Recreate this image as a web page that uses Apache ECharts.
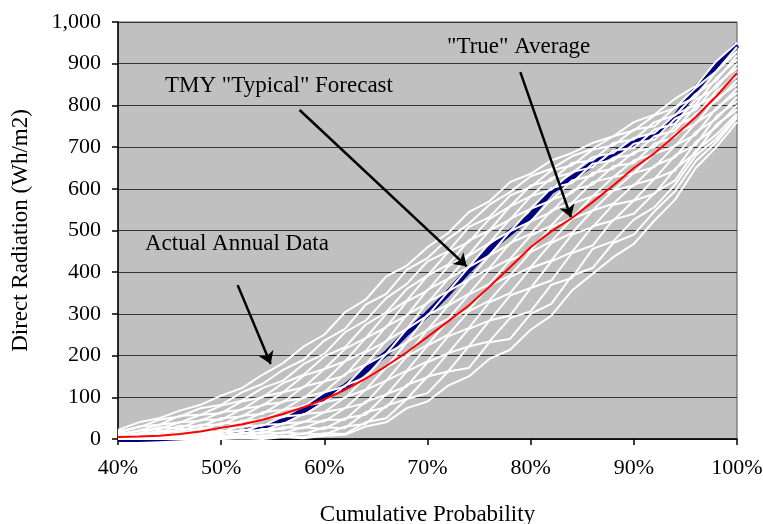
<!DOCTYPE html>
<html>
<head>
<meta charset="utf-8">
<script src="https://cdn.jsdelivr.net/npm/echarts@6/dist/echarts.min.js"></script>
<style>
html,body{margin:0;padding:0;background:#fff;}
#chart{width:763px;height:524px;}
</style>
</head>
<body>
<div id="chart"></div>
<script>
// Cumulative probability (%) sample points
var probs = [40,42,44,46,48,50,52,54,56,58,60,62,64,66,68,70,72,74,76,78,80,82,84,86,88,90,92,94,96,98,100];

// "True" average
var trueAverage = [5,6,8,12,18,27,35,46,60,76,95,118,145,175,208,245,282,320,365,412,460,498,530,568,608,650,685,728,772,822,878];

// TMY "Typical" forecast
var tmyForecast = [0,0,2,4,6,10,16,28,45,68,100,125,165,205,255,300,350,405,455,495,535,595,625,660,685,710,728,770,840,895,945];

// Actual annual data (one array per year)
var year01 = [22,40,50,68,82,104,122,154,182,222,250,304,334,390,416,460,494,544,570,616,636,668,686,710,726,760,778,816,846,906,950];
var year02 = [18,28,46,54,74,82,112,132,166,190,236,264,322,348,406,434,480,516,562,592,630,648,678,696,726,740,776,794,842,882,940];
var year03 = [15,30,34,56,58,80,92,122,140,180,204,256,284,338,372,426,450,508,532,584,604,644,656,694,704,742,750,796,820,882,930];
var year04 = [12,20,34,40,58,62,90,100,134,154,198,220,274,304,360,392,448,472,528,558,608,620,662,668,710,718,760,776,828,860,920];
var year05 = [10,20,24,40,44,64,70,102,112,152,168,216,242,300,332,392,418,476,500,558,582,626,638,676,686,722,734,778,802,866,910];
var year06 = [8,12,28,26,46,46,72,80,112,124,168,186,242,268,330,356,414,442,500,526,582,598,640,652,692,698,742,756,814,842,900];
var year07 = [6,14,16,32,30,50,54,82,88,126,138,186,210,270,296,358,384,440,470,528,552,602,614,660,668,708,718,768,790,850,890];
var year08 = [5,8,20,18,34,34,56,60,90,98,138,152,208,234,298,326,384,412,470,498,552,572,620,632,674,682,726,740,798,826,880];
var year09 = [4,10,10,24,22,38,40,64,70,100,112,156,178,236,264,328,354,412,440,498,522,574,590,638,648,688,700,750,774,834,870];
var year10 = [3,5,13,12,26,24,44,46,70,78,112,126,178,204,264,296,354,382,440,468,522,544,596,610,654,662,708,724,780,810,860];
var year11 = [2,6,6,16,14,28,28,50,52,80,88,128,148,204,232,298,322,382,410,470,492,548,566,616,628,668,684,732,756,816,850];
var year12 = [2,3,9,8,18,16,32,32,54,58,88,98,148,172,232,262,320,348,406,432,488,512,564,582,628,638,684,702,758,790,840];
var year13 = [1,4,4,10,10,20,18,34,36,60,64,100,118,172,200,262,288,346,372,428,452,508,530,582,596,638,652,704,730,794,830];
var year14 = [1,1,6,5,13,11,22,20,38,40,64,74,118,140,198,226,284,310,368,392,448,474,528,548,596,608,656,676,736,768,820];
var year15 = [0,3,2,7,6,14,12,24,24,42,42,74,86,140,164,224,250,306,332,388,412,470,494,548,564,610,624,680,706,774,810];
var year16 = [0,0,3,3,8,6,15,14,28,26,46,46,90,106,162,186,246,266,328,350,410,428,490,508,562,572,624,644,712,748,800];
var year17 = [0,1,1,4,3,8,6,16,14,28,24,50,58,108,126,184,206,264,284,344,362,426,448,510,524,572,588,648,686,754,790];
var year18 = [0,0,2,1,4,3,9,6,16,12,28,26,64,76,130,148,206,222,284,296,362,380,446,464,526,540,590,620,692,730,780];
var year19 = [0,0,0,2,1,4,3,9,6,14,10,30,36,80,96,150,162,222,234,290,306,370,386,456,474,526,556,610,680,720,775];
var year20 = [0,0,0,0,2,1,4,2,8,4,14,12,40,50,96,110,162,170,232,240,300,324,392,410,470,490,546,594,666,712,770];
var year21 = [0,0,0,0,0,0,2,0,4,2,8,10,30,40,74,90,128,150,192,214,262,296,356,396,436,468,524,574,650,700,760];

var annualYears = [year01,year02,year03,year04,year05,year06,year07,year08,year09,year10,year11,year12,year13,year14,year15,year16,year17,year18,year19,year20,year21];

// Annotation texts and arrow coordinates (in data units: [probability %, Wh/m2])
var annotationTexts = ['TMY "Typical" Forecast', '"True" Average', 'Actual Annual Data'];
var arrowTMY = [[57.6, 789], [73.8, 414]];
var arrowAvg = [[79.0, 880], [83.9, 532]];
var arrowAnnual = [[51.6, 369], [54.8, 180]];

var yTicks = [0,100,200,300,400,500,600,700,800,900,1000];

function pairs(vals){
  return probs.map(function(p,i){ return [p, vals[i]]; });
}

var serifFont = '"Liberation Serif", "Times New Roman", serif';

var series = [];
series.push({
  name: 'TMY', type: 'line', data: pairs(tmyForecast), showSymbol: false,
  lineStyle: {color: '#000080', width: 6}, z: 2, silent: true
});
annualYears.forEach(function(y, i){
  series.push({
    name: 'Year ' + (i+1), type: 'line', data: pairs(y), showSymbol: false,
    lineStyle: {color: '#ffffff', width: 2}, z: 3, silent: true
  });
});
series.push({
  name: 'Average', type: 'line', data: pairs(trueAverage), showSymbol: false,
  lineStyle: {color: '#ff0000', width: 2}, z: 4, silent: true
});
series.push({
  name: 'arrows', type: 'line', data: [], z: 5, silent: true,
  markLine: {
    silent: true, animation: false,
    symbol: ['none', 'arrow'], symbolSize: 12,
    label: {show: false},
    lineStyle: {color: '#000', width: 2.5, type: 'solid'},
    itemStyle: {color: '#000'},
    data: [
      [{coord: arrowTMY[0]}, {coord: arrowTMY[1]}],
      [{coord: arrowAvg[0]}, {coord: arrowAvg[1]}],
      [{coord: arrowAnnual[0]}, {coord: arrowAnnual[1]}]
    ]
  }
});

var chart = echarts.init(document.getElementById('chart'), null, {renderer: 'canvas'});
chart.setOption({
  animation: false,
  backgroundColor: '#ffffff',
  grid: {left: 118, right: 26, top: 22, bottom: 85, containLabel: false, outerBoundsMode: 'none',
         show: true, backgroundColor: '#c0c0c0', borderColor: '#555', borderWidth: 1},
  xAxis: {
    type: 'value', min: 40, max: 100, interval: 10,
    name: 'Cumulative Probability', nameLocation: 'middle', nameGap: 64,
    nameTextStyle: {fontFamily: serifFont, fontSize: 23, color: '#000'},
    axisLine: {show: true, lineStyle: {color: '#000', width: 1.5}},
    axisTick: {show: true, length: 6, lineStyle: {color: '#000', width: 1.5}},
    axisLabel: {formatter: '{value}%', fontFamily: serifFont, fontSize: 22, color: '#000', margin: 18},
    splitLine: {show: false}
  },
  yAxis: {
    type: 'value', min: 0, max: 1000, interval: 100,
    name: 'Direct Radiation (Wh/m2)', nameLocation: 'middle', nameGap: 86,
    nameTextStyle: {fontFamily: serifFont, fontSize: 23, color: '#000'},
    axisLine: {show: true, lineStyle: {color: '#000', width: 1.5}},
    axisTick: {show: true, length: 6, lineStyle: {color: '#000', width: 1.5}},
    axisLabel: {
      fontFamily: serifFont, fontSize: 22, color: '#000', margin: 17,
      formatter: function(v){ return yTicks.indexOf(v) >= 0 ? v.toLocaleString('en-US') : ''; }
    },
    splitLine: {show: true, lineStyle: {color: '#333', width: 1.2}}
  },
  graphic: [
    {type: 'text', left: 165, top: 74, style: {text: annotationTexts[0], font: '23px ' + serifFont, fill: '#000'}, z: 10},
    {type: 'text', left: 447, top: 35, style: {text: annotationTexts[1], font: '23px ' + serifFont, fill: '#000'}, z: 10},
    {type: 'text', left: 145, top: 232, style: {text: annotationTexts[2], font: '23px ' + serifFont, fill: '#000'}, z: 10}
  ],
  series: series
});
</script>
</body>
</html>
